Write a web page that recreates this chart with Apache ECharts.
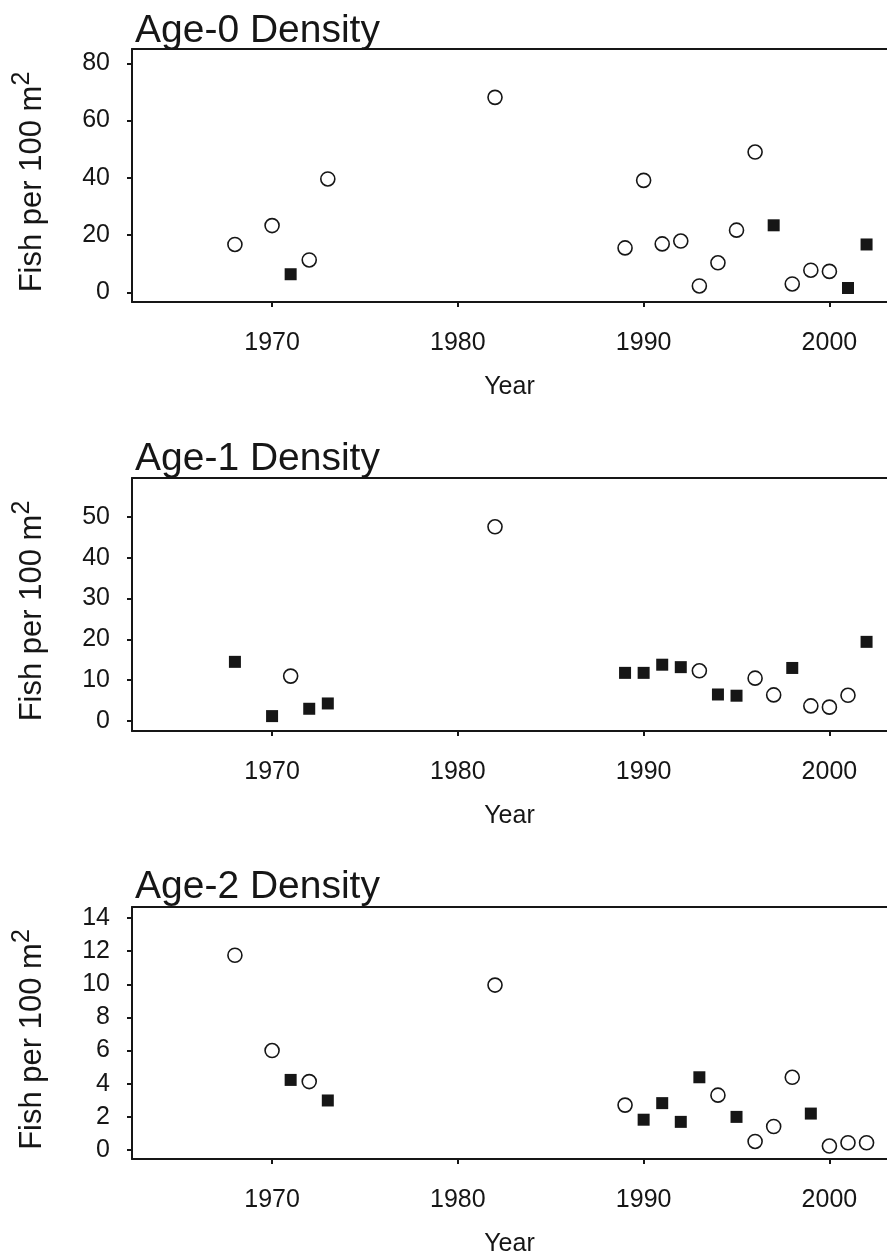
<!DOCTYPE html>
<html>
<head>
<meta charset="utf-8">
<script src="https://cdn.jsdelivr.net/npm/echarts@6/dist/echarts.min.js"></script>
<style>
  html, body { margin: 0; padding: 0; background: #fff; }
  #chart { width: 887px; height: 1258px; }
</style>
</head>
<body>
<div id="chart"></div>
<script>
// Tick labels
const yearTicks = [1970, 1980, 1990, 2000];
const age0Ticks = [0, 20, 40, 60, 80];
const age1Ticks = [0, 10, 20, 30, 40, 50];
const age2Ticks = [0, 2, 4, 6, 8, 10, 12, 14];

// Panel titles
const panelTitles = ['Age-0 Density', 'Age-1 Density', 'Age-2 Density'];

// Age-0 densities [year, fish per 100 m²]
const age0Open = [[1968, 16.7], [1970, 23.3], [1972, 11.3], [1973, 39.6], [1982, 68.1],
  [1989, 15.5], [1990, 39.1], [1991, 16.9], [1992, 17.9], [1993, 2.2], [1994, 10.3],
  [1995, 21.7], [1996, 49.0], [1998, 2.9], [1999, 7.7], [2000, 7.3]];
const age0Filled = [[1971, 6.3], [1997, 23.4], [2001, 1.5], [2002, 16.7]];

// Age-1 densities
const age1Open = [[1971, 11.0], [1982, 47.6], [1993, 12.3], [1996, 10.5], [1997, 6.4],
  [1999, 3.7], [2000, 3.4], [2001, 6.3]];
const age1Filled = [[1968, 14.5], [1970, 1.2], [1972, 3.0], [1973, 4.3], [1989, 11.8],
  [1990, 11.8], [1991, 13.8], [1992, 13.2], [1994, 6.5], [1995, 6.2], [1998, 13.0], [2002, 19.4]];

// Age-2 densities
const age2Open = [[1968, 11.75], [1970, 6.0], [1972, 4.13], [1982, 9.95], [1989, 2.71],
  [1994, 3.31], [1996, 0.52], [1997, 1.42], [1998, 4.39], [2000, 0.24], [2001, 0.44], [2002, 0.44]];
const age2Filled = [[1971, 4.23], [1973, 2.99], [1990, 1.83], [1991, 2.83], [1992, 1.70],
  [1993, 4.39], [1995, 2.0], [1999, 2.2]];

const FONT = '"Liberation Sans", Arial, Helvetica, sans-serif';
const INK = '#161616';

const panels = [
  { title: panelTitles[0], top: 49, height: 253, yMin: -3.4, yMax: 85, yTicks: age0Ticks,
    open: age0Open, filled: age0Filled, titleTop: 7 },
  { title: panelTitles[1], top: 478, height: 253, yMin: -2.45, yMax: 59.56, yTicks: age1Ticks,
    open: age1Open, filled: age1Filled, titleTop: 435 },
  { title: panelTitles[2], top: 907, height: 253, yMin: -0.54, yMax: 14.66, yTicks: age2Ticks,
    open: age2Open, filled: age2Filled, titleTop: 863 }
];

const X_MIN = 1962.46, X_MAX = 2003.1;

const option = {
  backgroundColor: '#fff',
  animation: false,
  title: [], grid: [], xAxis: [], yAxis: [], series: []
};

panels.forEach((p, i) => {
  option.title.push({
    text: p.title, left: 130, top: p.titleTop,
    textStyle: { fontFamily: FONT, fontSize: 39, fontWeight: 'normal', color: INK }
  });
  option.grid.push({ left: 132, right: 0, top: p.top, height: p.height, show: false });

  // bottom axis with year ticks
  option.xAxis.push({
    type: 'value', gridIndex: i, position: 'bottom', min: X_MIN, max: X_MAX,
    name: 'Year', nameLocation: 'middle', nameGap: 73,
    nameTextStyle: { fontFamily: FONT, fontSize: 25, color: INK },
    axisLine: { show: true, onZero: false, lineStyle: { color: INK, width: 2 } },
    axisTick: { show: true, inside: false, length: 5, customValues: yearTicks,
      lineStyle: { color: INK, width: 2 } },
    axisLabel: { show: true, margin: 29, customValues: yearTicks,
      fontFamily: FONT, fontSize: 25, color: INK, formatter: v => String(v) },
    splitLine: { show: false }
  });
  // top frame line
  option.xAxis.push({
    type: 'value', gridIndex: i, position: 'top', min: X_MIN, max: X_MAX,
    axisLine: { show: true, onZero: false, lineStyle: { color: INK, width: 2 } },
    axisTick: { show: false }, axisLabel: { show: false }, splitLine: { show: false }
  });

  option.yAxis.push({
    type: 'value', gridIndex: i, position: 'left', min: p.yMin, max: p.yMax,
    name: '{m|Fish per 100 m}{s|2}', nameLocation: 'middle', nameRotate: 90, nameGap: 77,
    nameTextStyle: {
      fontFamily: FONT, fontSize: 31, color: INK, padding: [0, 13, 0, 0],
      rich: {
        m: { fontFamily: FONT, fontSize: 31, color: INK },
        s: { fontFamily: FONT, fontSize: 25, color: INK, padding: [0, 0, 20, 0] }
      }
    },
    axisLine: { show: true, onZero: false, lineStyle: { color: INK, width: 2 } },
    axisTick: { show: true, inside: false, length: 5, customValues: p.yTicks,
      lineStyle: { color: INK, width: 2 } },
    axisLabel: { show: true, margin: 22, customValues: p.yTicks,
      fontFamily: FONT, fontSize: 25, color: INK, formatter: v => String(v) },
    splitLine: { show: false }
  });

  option.series.push({
    type: 'scatter', xAxisIndex: i * 2, yAxisIndex: i, data: p.open,
    symbol: 'circle', symbolSize: 14,
    itemStyle: { color: '#fff', borderColor: INK, borderWidth: 1.6, opacity: 1 }
  });
  option.series.push({
    type: 'scatter', xAxisIndex: i * 2, yAxisIndex: i, data: p.filled,
    symbol: 'rect', symbolSize: 12,
    itemStyle: { color: INK, opacity: 1 }
  });
});

const chart = echarts.init(document.getElementById('chart'), null, { renderer: 'canvas' });
chart.setOption(option);
</script>
</body>
</html>
